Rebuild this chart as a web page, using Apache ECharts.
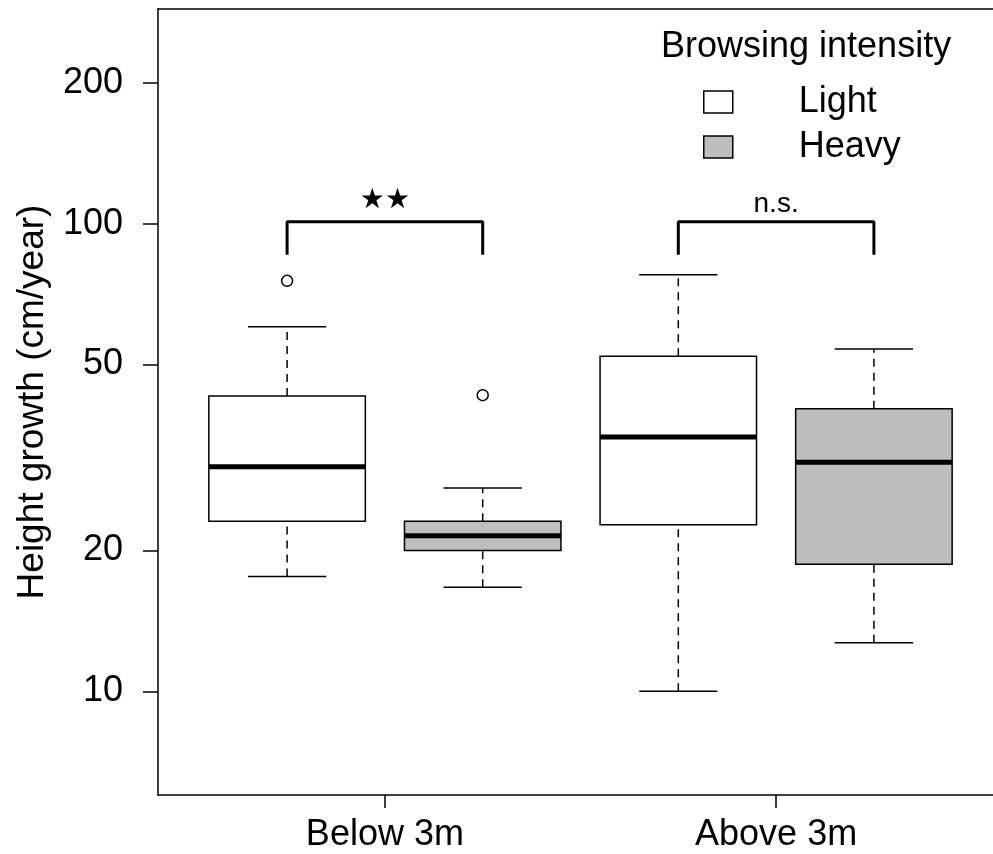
<!DOCTYPE html>
<html>
<head>
<meta charset="utf-8">
<script src="https://cdn.jsdelivr.net/npm/echarts@6/dist/echarts.min.js"></script>
<style>
  html, body { margin: 0; padding: 0; background: #fff; overflow: hidden; }
  /* the plot frame runs past the right edge of the window, as in the original */
  #chart { width: 1010px; height: 854px; }
</style>
</head>
<body>
<div id="chart"></div>
<script>
// groups on the x axis (label sits between its two boxes)
const groupNames = ['Below 3m', 'Above 3m'];
const groupTicks = [1.5, 3.5];
const yTicks = [10, 20, 50, 100, 200];

// [position, lower whisker, Q1, median, Q3, upper whisker]
const lightBoxes = [
  [1, 17.6, 23.1, 30.2, 42.8, 60.2],
  [3, 10.0, 22.7, 35.0, 52.1, 77.8]
];
const heavyBoxes = [
  [2, 16.7, 20.0, 21.5, 23.1, 27.2],
  [4, 12.7, 18.7, 30.9, 40.2, 54.0]
];
const outliers = [[1, 75.5], [2, 43.0]];

// significance brackets
const bracketBelow = [[1, 85.9], [1, 101], [2, 101], [2, 85.9]];
const bracketAbove = [[3, 85.9], [3, 101], [4, 101], [4, 85.9]];
const sigPos = [[1.5, 112], [3.5, 110]];
const sigText = ['★★', 'n.s.'];

const FONT = 'Liberation Sans, Arial, sans-serif';

const chart = echarts.init(document.getElementById('chart'));

function renderBox(params, api) {
  const x = api.value(0);
  const low = api.coord([x, api.value(1)]);
  const q1 = api.coord([x, api.value(2)]);
  const med = api.coord([x, api.value(3)]);
  const q3 = api.coord([x, api.value(4)]);
  const high = api.coord([x, api.value(5)]);
  const left = api.coord([x - 0.4, api.value(3)])[0];
  const right = api.coord([x + 0.4, api.value(3)])[0];
  const capL = api.coord([x - 0.2, api.value(3)])[0];
  const capR = api.coord([x + 0.2, api.value(3)])[0];
  const cx = med[0];
  const thin = { stroke: '#000', lineWidth: 1.5 };
  const dash = { stroke: '#000', lineWidth: 1.5, lineDash: [8, 6] };
  return {
    type: 'group',
    children: [
      { type: 'line', shape: { x1: cx, y1: low[1], x2: cx, y2: q1[1] }, style: dash },
      { type: 'line', shape: { x1: cx, y1: q3[1], x2: cx, y2: high[1] }, style: dash },
      { type: 'line', shape: { x1: capL, y1: low[1], x2: capR, y2: low[1] }, style: thin },
      { type: 'line', shape: { x1: capL, y1: high[1], x2: capR, y2: high[1] }, style: thin },
      {
        type: 'rect',
        shape: { x: left, y: q3[1], width: right - left, height: q1[1] - q3[1] },
        style: { fill: api.visual('color'), stroke: '#000', lineWidth: 1.5 }
      },
      { type: 'line', shape: { x1: left, y1: med[1], x2: right, y2: med[1] }, style: { stroke: '#000', lineWidth: 5 } }
    ]
  };
}

const bracketStyle = { color: '#000', width: 3 };

const option = {
  animation: false,
  backgroundColor: '#fff',
  textStyle: { fontFamily: FONT },
  title: {
    text: 'Browsing intensity',
    left: 661,
    top: 29,
    padding: 0,
    textStyle: { fontFamily: FONT, fontSize: 36, fontWeight: 'normal', color: '#000' }
  },
  legend: {
    orient: 'vertical',
    left: 703,
    top: 84,
    padding: 0,
    itemGap: 9,
    itemWidth: 29,
    itemHeight: 22,
    selectedMode: false,
    textStyle: { fontFamily: FONT, fontSize: 36, color: '#000', padding: [5, 0, 0, 61] },
    data: [
      { name: 'Light', icon: 'rect', itemStyle: { color: '#fff', borderColor: '#000', borderWidth: 1.5 } },
      { name: 'Heavy', icon: 'rect', itemStyle: { color: '#bebebe', borderColor: '#000', borderWidth: 1.5 } }
    ]
  },
  grid: {
    left: 158,
    top: 9,
    width: 845,
    height: 786,
    outerBoundsMode: 'none',
    show: false
  },
  xAxis: [
    {
      type: 'value',
      min: 0.34,
      max: 4.66,
      axisLine: { show: true, lineStyle: { color: '#000', width: 1.5 } },
      axisTick: { show: true, length: 13, customValues: groupTicks, lineStyle: { color: '#000', width: 1.5 } },
      axisLabel: {
        customValues: groupTicks,
        margin: 22,
        fontSize: 36,
        color: '#000',
        fontFamily: FONT,
        formatter: v => groupNames[groupTicks.indexOf(v)]
      },
      splitLine: { show: false }
    },
    {
      // top edge of the plot frame
      type: 'value',
      position: 'top',
      min: 0.34,
      max: 4.66,
      axisLine: { show: true, lineStyle: { color: '#000', width: 1.5 } },
      axisTick: { show: false },
      axisLabel: { show: false },
      splitLine: { show: false }
    }
  ],
  yAxis: {
    type: 'log',
    logBase: 10,
    min: 6,
    max: 288,
    name: 'Height growth (cm/year)',
    nameLocation: 'middle',
    nameGap: 107,
    nameTextStyle: { fontSize: 37, color: '#000', fontFamily: FONT },
    axisLine: { show: true, lineStyle: { color: '#000', width: 1.5 } },
    axisTick: { show: true, length: 15, customValues: yTicks, lineStyle: { color: '#000', width: 1.5 } },
    axisLabel: { customValues: yTicks, margin: 35, fontSize: 36, color: '#000', fontFamily: FONT },
    splitLine: { show: false }
  },
  series: [
    {
      name: 'Light',
      type: 'custom',
      renderItem: renderBox,
      itemStyle: { color: '#fff' },
      encode: { x: 0, y: [1, 2, 3, 4, 5] },
      data: lightBoxes,
      silent: true
    },
    {
      name: 'Heavy',
      type: 'custom',
      renderItem: renderBox,
      itemStyle: { color: '#bebebe' },
      encode: { x: 0, y: [1, 2, 3, 4, 5] },
      data: heavyBoxes,
      silent: true
    },
    {
      type: 'scatter',
      symbol: 'circle',
      symbolSize: 11,
      itemStyle: { color: '#fff', borderColor: '#000', borderWidth: 1.5, opacity: 1 },
      data: outliers,
      silent: true
    },
    { type: 'line', data: bracketBelow, symbol: 'none', lineStyle: bracketStyle, silent: true },
    { type: 'line', data: bracketAbove, symbol: 'none', lineStyle: bracketStyle, silent: true },
    {
      type: 'scatter',
      symbolSize: 1,
      itemStyle: { color: 'transparent', opacity: 1 },
      silent: true,
      data: sigPos.map((p, i) => ({
        value: p,
        name: sigText[i],
        label: {
          color: '#000',
          fontSize: i === 0 ? 28 : 28,
          letterSpacing: i === 0 ? 2 : 0,
          fontFamily: i === 0 ? 'DejaVu Sans' : FONT
        }
      })),
      label: { show: true, position: 'inside', formatter: '{b}', color: '#000' }
    }
  ]
};

chart.setOption(option);
</script>
</body>
</html>
